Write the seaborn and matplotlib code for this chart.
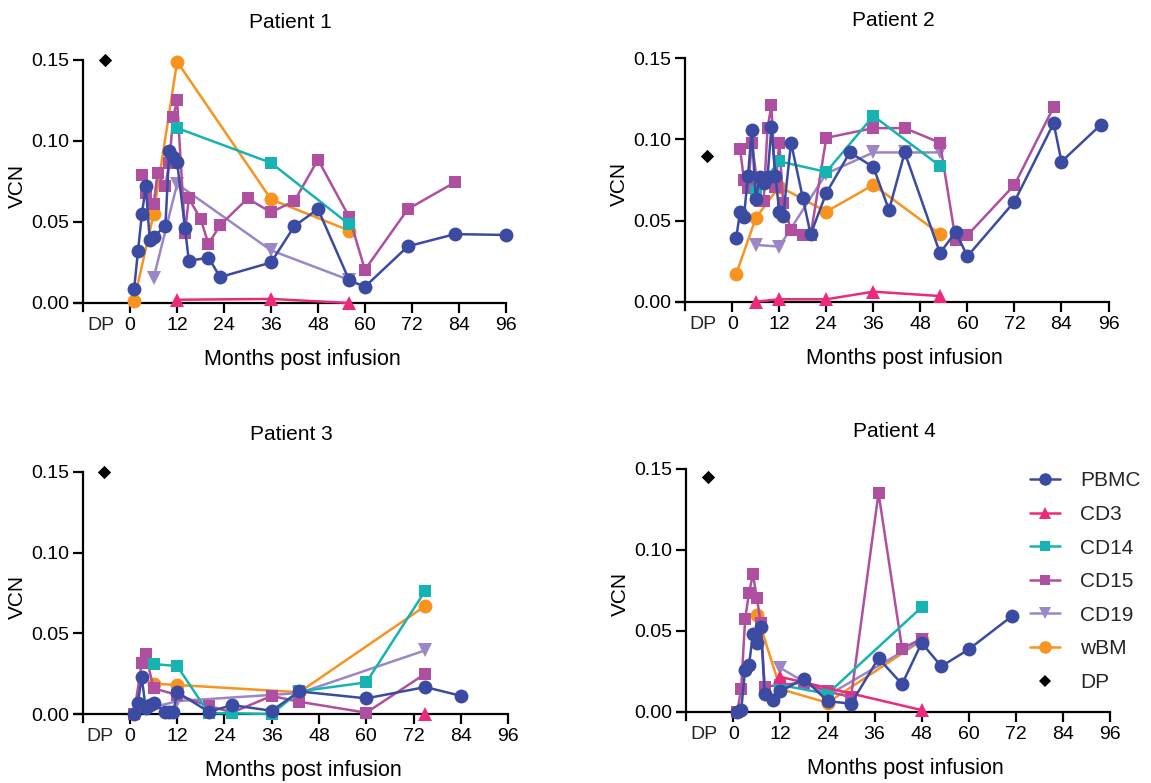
import numpy as np
import pandas as pd
import matplotlib
matplotlib.use("Agg")
import matplotlib.pyplot as plt
import seaborn as sns
from matplotlib.lines import Line2D

sns.set_theme(style="ticks")
plt.rcParams["font.family"] = ["Liberation Sans", "DejaVu Sans"]

# ---------------- data (months post infusion, VCN) ----------------
cell_types = ["PBMC", "CD3", "CD14", "CD15", "CD19", "wBM"]
patients = ["Patient 1", "Patient 2", "Patient 3", "Patient 4"]
dp_values = [0.150, 0.090, 0.150, 0.145]

# Patient 1
p1_pbmc_m = [1, 2, 3, 4, 5, 6, 9, 10, 11, 12, 14, 15, 20, 23, 36, 42, 48, 56, 60, 71, 83, 96]
p1_pbmc_v = [0.0085, 0.032, 0.055, 0.072, 0.039, 0.041, 0.0475, 0.094, 0.090, 0.087, 0.0465,
             0.026, 0.028, 0.016, 0.025, 0.0475, 0.058, 0.014, 0.010, 0.035, 0.0425, 0.042]
p1_cd3_m = [12, 36, 56]
p1_cd3_v = [0.002, 0.0025, 0.0]
p1_cd14_m = [12, 36, 56]
p1_cd14_v = [0.108, 0.0865, 0.0485]
p1_cd15_m = [3, 4, 6, 7, 9, 10, 11, 12, 14, 15, 18, 20, 23, 30, 36, 42, 48, 56, 60, 71, 83]
p1_cd15_v = [0.079, 0.068, 0.061, 0.080, 0.072, 0.0865, 0.115, 0.125, 0.0435, 0.0645, 0.052,
             0.0365, 0.048, 0.0645, 0.056, 0.063, 0.0885, 0.053, 0.0205, 0.058, 0.0745]
p1_cd19_m = [6, 12, 36, 56]
p1_cd19_v = [0.0155, 0.0735, 0.0325, 0.0142]
p1_wbm_m = [1, 6, 12, 36, 56]
p1_wbm_v = [0.0015, 0.055, 0.149, 0.064, 0.0447]

# Patient 2
p2_pbmc_m = [1, 2, 3, 4, 5, 6, 7, 8, 9, 10, 11, 12, 13, 15, 18, 20, 24, 30, 36, 40, 44,
             53, 57, 60, 72, 82, 84, 94]
p2_pbmc_v = [0.039, 0.0555, 0.0525, 0.0775, 0.106, 0.063, 0.077, 0.073, 0.077, 0.1075, 0.0775,
             0.0555, 0.053, 0.098, 0.064, 0.0415, 0.067, 0.092, 0.083, 0.0565, 0.092,
             0.030, 0.043, 0.028, 0.0617, 0.110, 0.0863, 0.109]
p2_cd3_m = [6, 12, 24, 36, 53]
p2_cd3_v = [0.0, 0.0015, 0.0015, 0.0062, 0.0035]
p2_cd14_m = [6, 12, 24, 36, 53]
p2_cd14_v = [0.0685, 0.0865, 0.080, 0.1145, 0.0837]
p2_cd15_m = [2, 3, 4, 5, 7, 8, 9, 10, 11, 12, 13, 15, 18, 20, 24, 36, 44, 53, 57, 60, 72, 82]
p2_cd15_v = [0.094, 0.075, 0.070, 0.098, 0.062, 0.062, 0.107, 0.121, 0.071, 0.098, 0.061,
             0.044, 0.041, 0.041, 0.101, 0.107, 0.107, 0.098, 0.038, 0.041, 0.072, 0.120]
p2_cd19_m = [6, 12, 24, 36, 44, 53]
p2_cd19_v = [0.035, 0.034, 0.079, 0.092, 0.092, 0.092]
p2_wbm_m = [1, 6, 12, 24, 36, 53]
p2_wbm_v = [0.017, 0.0515, 0.071, 0.0555, 0.072, 0.0417]

# Patient 3
p3_pbmc_m = [1, 2, 3, 4, 5, 6, 9, 10, 11, 12, 20, 26, 36, 43, 60, 75, 84]
p3_pbmc_v = [0.0, 0.007, 0.0227, 0.0035, 0.0056, 0.007, 0.001, 0.0015, 0.001, 0.0135,
             0.0014, 0.0055, 0.002, 0.014, 0.0097, 0.0167, 0.0113]
p3_cd3_m = [75]
p3_cd3_v = [0.0]
p3_cd14_m = [6, 12, 20, 26, 36, 43, 60, 75]
p3_cd14_v = [0.031, 0.0297, 0.0005, 0.0005, 0.0, 0.014, 0.0196, 0.0765]
p3_cd15_m = [1, 3, 4, 6, 12, 20, 26, 36, 43, 60, 75]
p3_cd15_v = [0.0, 0.0316, 0.037, 0.0159, 0.0118, 0.005, 0.001, 0.0112, 0.0076, 0.0008, 0.025]
p3_cd19_m = [4, 12, 43, 75]
p3_cd19_v = [0.003, 0.008, 0.013, 0.0395]
p3_wbm_m = [6, 12, 43, 75]
p3_wbm_v = [0.0188, 0.018, 0.0135, 0.067]

# Patient 4
p4_pbmc_m = [1, 2, 3, 4, 5, 6, 7, 8, 10, 12, 18, 24, 30, 37, 43, 48, 53, 60, 71]
p4_pbmc_v = [0.0, 0.001, 0.026, 0.029, 0.048, 0.0425, 0.0525, 0.011, 0.0075, 0.0125, 0.0205,
             0.0065, 0.005, 0.033, 0.017, 0.0425, 0.028, 0.0385, 0.059]
p4_cd3_m = [12, 48]
p4_cd3_v = [0.0215, 0.001]
p4_cd14_m = [12, 24, 48]
p4_cd14_v = [0.0165, 0.011, 0.0645]
p4_cd15_m = [1, 2, 3, 4, 5, 6, 7, 8, 18, 24, 30, 37, 43, 48]
p4_cd15_v = [0.0, 0.014, 0.057, 0.0735, 0.085, 0.070, 0.055, 0.0155, 0.018, 0.0125, 0.009,
             0.135, 0.039, 0.045]
p4_cd19_m = [12, 24, 48]
p4_cd19_v = [0.027, 0.010, 0.044]
p4_wbm_m = [6, 12, 24, 48]
p4_wbm_v = [0.060, 0.014, 0.0055, 0.044]

x_ticks = [0, 12, 24, 36, 48, 60, 72, 84, 96]
y_ticks = [0.00, 0.05, 0.10, 0.15]

# ---------------- assemble long table ----------------
series = {
    "Patient 1": {"PBMC": (p1_pbmc_m, p1_pbmc_v), "CD3": (p1_cd3_m, p1_cd3_v),
                  "CD14": (p1_cd14_m, p1_cd14_v), "CD15": (p1_cd15_m, p1_cd15_v),
                  "CD19": (p1_cd19_m, p1_cd19_v), "wBM": (p1_wbm_m, p1_wbm_v)},
    "Patient 2": {"PBMC": (p2_pbmc_m, p2_pbmc_v), "CD3": (p2_cd3_m, p2_cd3_v),
                  "CD14": (p2_cd14_m, p2_cd14_v), "CD15": (p2_cd15_m, p2_cd15_v),
                  "CD19": (p2_cd19_m, p2_cd19_v), "wBM": (p2_wbm_m, p2_wbm_v)},
    "Patient 3": {"PBMC": (p3_pbmc_m, p3_pbmc_v), "CD3": (p3_cd3_m, p3_cd3_v),
                  "CD14": (p3_cd14_m, p3_cd14_v), "CD15": (p3_cd15_m, p3_cd15_v),
                  "CD19": (p3_cd19_m, p3_cd19_v), "wBM": (p3_wbm_m, p3_wbm_v)},
    "Patient 4": {"PBMC": (p4_pbmc_m, p4_pbmc_v), "CD3": (p4_cd3_m, p4_cd3_v),
                  "CD14": (p4_cd14_m, p4_cd14_v), "CD15": (p4_cd15_m, p4_cd15_v),
                  "CD19": (p4_cd19_m, p4_cd19_v), "wBM": (p4_wbm_m, p4_wbm_v)},
}
rows = []
for pt, d in series.items():
    for ct, (ms, vs) in d.items():
        for m, v in zip(ms, vs):
            rows.append({"patient": pt, "type": ct, "month": m, "vcn": v})
df = pd.DataFrame(rows)

# ---------------- style ----------------
colors = {"PBMC": "#3B4BA2", "CD3": "#EC2A7B", "CD14": "#17B3B3",
          "CD15": "#AE4FA0", "CD19": "#9B87C6", "wBM": "#F7931E"}
markers = {"PBMC": "o", "CD3": "^", "CD14": "s", "CD15": "s", "CD19": "v", "wBM": "o"}
msizes = {"PBMC": 10, "CD3": 9.5, "CD14": 8.3, "CD15": 8.3, "CD19": 9.5, "wBM": 10}
DP_X = -6.5

fig = plt.figure(figsize=(11.51, 7.83), dpi=100)
positions = [[0.0655, 0.6027, 0.3739, 0.3207],
             [0.5885, 0.6043, 0.3746, 0.3212],
             [0.0650, 0.0778, 0.3764, 0.3194],
             [0.5894, 0.0807, 0.3750, 0.3207]]

for i, pt in enumerate(patients):
    ax = fig.add_axes(positions[i])
    sub = df[df["patient"] == pt]
    for z, ct in enumerate(reversed(cell_types)):
        s = sub[sub["type"] == ct]
        if len(s) == 0:
            continue
        sns.lineplot(data=s, x="month", y="vcn", ax=ax, color=colors[ct],
                     marker=markers[ct], markersize=msizes[ct], markeredgewidth=0,
                     linewidth=1.8, estimator=None, sort=True, clip_on=False,
                     zorder=3 + z, legend=False)
    dp_df = pd.DataFrame({"month": [DP_X], "vcn": [dp_values[i]]})
    sns.scatterplot(data=dp_df, x="month", y="vcn", ax=ax, color="black", marker="D",
                    s=46, linewidth=0, clip_on=False, zorder=10, legend=False)

    ax.set_xlim(-14, 96)
    ax.set_ylim(-0.005, 0.15)
    ax.spines["left"].set_position(("data", -12))
    ax.spines["bottom"].set_position(("data", 0))
    ax.spines["top"].set_visible(False)
    ax.spines["right"].set_visible(False)
    for sp in ("left", "bottom"):
        ax.spines[sp].set_linewidth(1.6)
        ax.spines[sp].set_color("black")
    ax.set_xticks(x_ticks)
    ax.set_xticklabels([str(t) for t in x_ticks])
    ax.set_yticks(y_ticks)
    ax.set_yticklabels([f"{t:.2f}" for t in y_ticks])
    ax.tick_params(axis="both", which="major", length=7, width=1.6, labelsize=14,
                   pad=3, color="black", labelcolor="black", direction="out")
    ax.annotate("DP", xy=(-7.5, 0), xycoords="data", xytext=(0, -10),
                textcoords="offset points", ha="center", va="top", fontsize=14,
                annotation_clip=False)
    ax.set_xlabel("Months post infusion", fontsize=15.5, labelpad=11, color="black")
    ax.xaxis.label.set_x(0.527)
    ax.set_ylabel("VCN", fontsize=15, labelpad=3, color="black")
    ax.set_title(pt, fontsize=15, pad=23, color="black")
    ax.set_facecolor("white")

handles = []
for ct in cell_types:
    handles.append(Line2D([0], [0], color=colors[ct], marker=markers[ct],
                          markersize=msizes[ct] * 0.9, markeredgewidth=0, linewidth=1.8))
handles.append(Line2D([0], [0], color="black", marker="D", markersize=6.5,
                      markeredgewidth=0, linewidth=0))
labels = cell_types + ["DP"]
fig.legend(handles, labels, loc="upper left", bbox_to_anchor=(1022 / 1151, 1 - 463 / 783),
           frameon=False, fontsize=15, handlelength=1.4, handletextpad=1.0,
           labelspacing=0.7, borderaxespad=0)

fig.savefig("out.png", dpi=100, facecolor="white")
